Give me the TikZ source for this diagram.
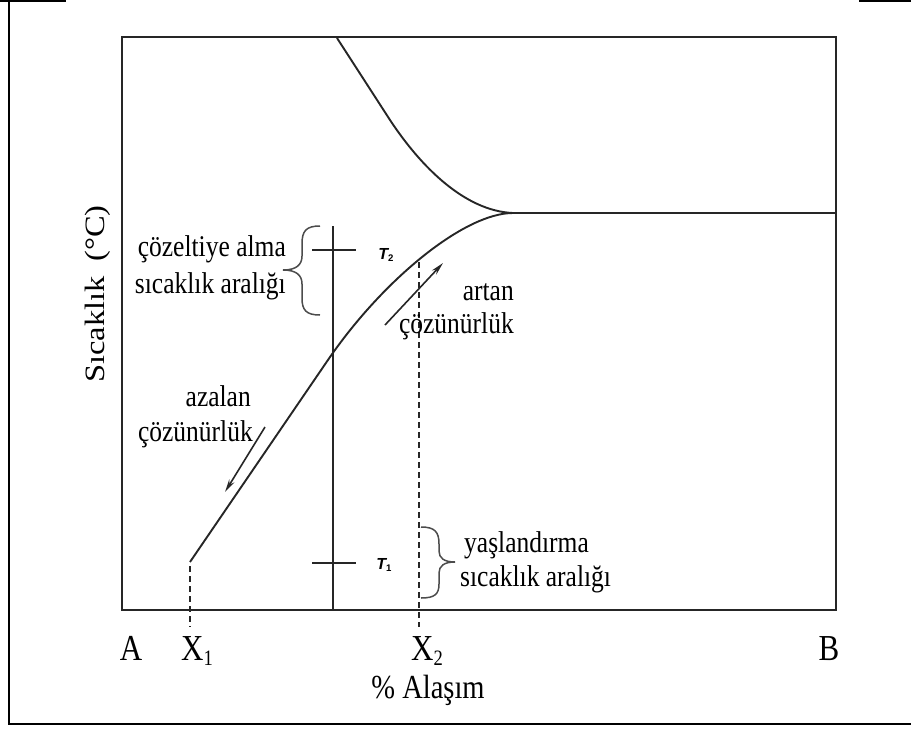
\documentclass[tikz,border=0pt]{standalone}
\usepackage{fontspec}
\setmainfont{Liberation Serif}
\setsansfont{Liberation Sans}
\usetikzlibrary{arrows.meta}
\newcommand{\vs}[1]{\scalebox{1}[1.18]{#1}}
\newcommand{\subsc}[1]{\raisebox{-0.15em}{\scalebox{0.6}{#1}}}
\begin{document}
\begin{tikzpicture}[x=1pt,y=-1pt,
  axisline/.style={line width=2pt, draw=black!85},
  curveline/.style={line width=1.9pt, draw=black!85},
  lbl/.style={inner sep=0pt, font=\fontsize{25.5}{27}\selectfont},
  biglbl/.style={inner sep=0pt, anchor=base, font=\fontsize{31}{33}\selectfont},
  tlbl/.style={inner sep=0pt, font=\sffamily\bfseries\itshape\fontsize{16}{17}\selectfont},
  dashline/.style={line width=1.1pt, dash pattern=on 6pt off 4pt, draw=black!85},
  bracepath/.style={line width=1.5pt, draw=black!70},
  arr/.style={line width=1.6pt, draw=black!85, -{Stealth[length=13pt,width=6pt]}},
  framel/.style={line width=2.5pt, draw=black}]
\useasboundingbox (0,0) rectangle (911,729);
% outer frame
\draw[framel] (0,1.2) -- (66,1.2);
\draw[framel] (859,1.2) -- (911,1.2);
\draw[framel] (9,0) -- (9,724) -- (911,724);
% plot box
\draw[axisline] (122,37) rectangle (836,610);
% coordinates
\coordinate (up0) at (337,38);
\coordinate (up1) at (390,120);
\coordinate (cusp) at (513,213);
\coordinate (rend) at (836,213);
\coordinate (lo0) at (190,562);
\coordinate (lo1) at (330,357);
\coordinate (vtop) at (333,226);
\coordinate (vbot) at (333,610);
% curves
\draw[curveline] (up0) -- (up1) .. controls (421,167) and (465,211) .. (cusp) -- (rend);
\draw[curveline] (lo0) -- (lo1) .. controls (385,278) and (465,213) .. (cusp);
% vertical line and ticks
\draw[axisline] (vtop) -- (vbot);
\coordinate (t2a) at (312,250); \coordinate (t2b) at (356,250);
\coordinate (t1a) at (312,563); \coordinate (t1b) at (356,563);
\draw[line width=1.5pt, draw=black!85] (t2a) -- (t2b);
\draw[line width=1.5pt, draw=black!85] (t1a) -- (t1b);
\node[tlbl] (T2) at (386,255) {T\subsc{\upshape 2}};
\node[tlbl] (T1) at (384,565) {T\subsc{\upshape 1}};
% dashed lines
\coordinate (d2a) at (419,262); \coordinate (d2b) at (419,627);
\coordinate (d1a) at (190,566); \coordinate (d1b) at (190,627);
\draw[dashline] (d2a) -- (d2b);
\draw[dashline] (d1a) -- (d1b);
% arrows
\coordinate (ar0) at (385,325); \coordinate (ar1) at (443,263);
\coordinate (az0) at (265,427); \coordinate (az1) at (225,492);
\draw[arr] (ar0) -- (ar1);
\draw[arr] (az0) -- (az1);
% braces
\draw[bracepath] (320,226) .. controls (306,226) and (302,231) .. (302,244) -- (302,256)
  .. controls (302,265) and (296,270) .. (283,270)
  .. controls (296,270) and (302,275) .. (302,284) -- (302,298)
  .. controls (302,310) and (306,315) .. (320,315);
\draw[bracepath] (421,527) .. controls (435,527) and (439,532) .. (439,544) -- (439,551)
  .. controls (439,558) and (444,562) .. (455,562)
  .. controls (444,562) and (439,566) .. (439,573) -- (439,584)
  .. controls (439,594) and (435,598) .. (421,598);
% labels
\node[lbl, anchor=east] (cz1) at (286,249) {\vs{çözeltiye alma}};
\node[lbl, anchor=east] (cz2) at (286,286) {\vs{sıcaklık aralığı}};
\node[lbl, anchor=west] (ys1) at (464,545) {\vs{yaşlandırma}};
\node[lbl, anchor=west] (ys2) at (460,579) {\vs{sıcaklık aralığı}};
\node[lbl, anchor=east] (ar1t) at (514,292) {\vs{artan}};
\node[lbl, anchor=east] (ar2t) at (514,326) {\vs{çözünürlük}};
\node[lbl, anchor=east] (az1t) at (251,396) {\vs{azalan}};
\node[lbl, anchor=east] (az2t) at (253,434) {\vs{çözünürlük}};
\node[inner sep=0pt, rotate=90, font=\fontsize{28}{30}\selectfont] (ylab) at (98,294) {\scalebox{1.16}[1]{Sıcaklık\hspace{0.45em}(°C)}};
\node[biglbl] (A) at (131,660) {\vs{A}};
\node[biglbl, anchor=base west] (X1) at (181,660) {\vs{X\subsc{1}}};
\node[biglbl, anchor=base west] (X2) at (411,660) {\vs{X\subsc{2}}};
\node[biglbl] (B) at (829,660) {\vs{B}};
\node[inner sep=0pt, anchor=base, font=\fontsize{28.5}{30}\selectfont] (alas) at (428,698) {\vs{\% Alaşım}};
\end{tikzpicture}
\end{document}
